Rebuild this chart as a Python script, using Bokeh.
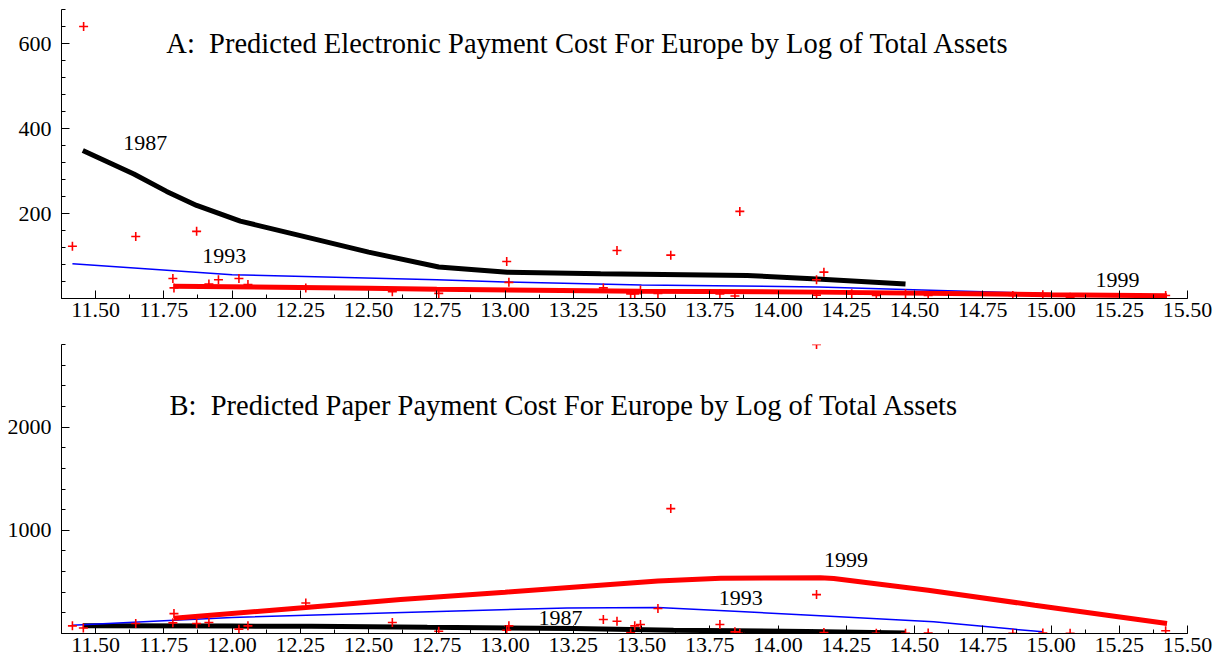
from bokeh.plotting import figure
from bokeh.layouts import column
from bokeh.models import Range1d, FixedTicker, Label, NumeralTickFormatter
from bokeh.embed import file_html
from bokeh.resources import INLINE

# ---------------- data ----------------
x_ticks = [11.50, 11.75, 12.00, 12.25, 12.50, 12.75, 13.00, 13.25, 13.50,
           13.75, 14.00, 14.25, 14.50, 14.75, 15.00, 15.25, 15.50]

# Panel A: predicted electronic payment cost
a87_x = [11.453, 11.64, 11.76, 11.87, 12.03, 12.25, 12.50, 12.757, 13.008, 13.35, 13.887, 14.143, 14.467]
a87_y = [348, 293, 252, 219, 182, 148, 109, 74, 62, 58, 54, 46, 34]
a93_x = [11.415, 12.0, 12.75, 13.0, 13.5, 14.15, 14.59, 14.97]
a93_y = [82, 56, 44, 39, 32, 27, 19, 12]
a99_x = [11.787, 12.5, 12.75, 13.496, 14.14, 15.0, 15.425]
a99_y = [29, 24, 22, 17, 15, 9, 6.5]
a_pts_x = [11.415, 11.456, 11.647, 11.783, 11.787, 11.87, 11.915, 11.95, 12.025, 12.058,
           12.27, 12.587, 12.757, 13.006, 13.014, 13.36, 13.41, 13.46, 13.475, 13.496,
           13.56, 13.607, 13.787, 13.842, 13.86, 14.141, 14.141, 14.168, 14.27, 14.36,
           14.467, 14.55, 14.86, 14.97, 15.07, 15.42]
a_pts_y = [123, 640, 146, 47, 25, 158, 34, 44, 47, 33,
           25, 16, 12, 87, 38, 25, 113, 11, 11, 20,
           12, 102, 11, 6, 205, 44, 8, 62, 11, 7,
           11, 7, 7, 9, 3, 7]

# Panel B: predicted paper payment cost
b87_x = [11.453, 12.0, 12.29, 12.715, 13.25, 13.617, 14.107, 14.467]
b87_y = [75, 72, 70, 60, 48, 32, 20, 6]
b93_x = [11.415, 11.787, 12.0, 12.69, 13.227, 13.56, 13.84, 14.155, 14.57, 14.97]
b93_y = [80, 129, 155, 209, 248, 251, 216, 171, 113, 16]
b99_x = [11.787, 12.27, 12.617, 13.0, 13.56, 13.79, 14.155, 14.204, 14.55, 14.94, 15.425]
b99_y = [148, 251, 329, 400, 509, 536, 540, 532, 420, 274, 97]
b_pts_x = [11.415, 11.455, 11.647, 11.783, 11.787, 11.87, 11.915, 12.025, 12.058, 12.27,
           12.587, 12.757, 13.006, 13.014, 13.36, 13.41, 13.46, 13.475, 13.496, 13.56,
           13.607, 13.787, 13.842, 13.86, 14.141, 14.141, 14.168, 14.36, 14.467, 14.55,
           14.86, 14.97, 15.07, 15.42]
b_pts_y = [74, 54, 97, 103, 193, 97, 106, 42, 74, 296,
           106, 22, 32, 74, 135, 119, 6, 74, 87, 242,
           1210, 87, 16, 2, 2800, 377, 10, 2, 3, 5,
           2, 5, 2, 26]

FONT = "Liberation Serif"


def make_panel(height, top_border, bottom_border, y_max, y_major, y_minor_step):
    p = figure(width=1221, height=height, output_backend="svg", toolbar_location=None,
               x_range=Range1d(11.375, 15.5), y_range=Range1d(0, y_max),
               min_border_left=61, min_border_right=34, min_border_top=top_border,
               min_border_bottom=bottom_border, background_fill_color="white",
               border_fill_color="white")
    p.outline_line_color = None
    p.xgrid.visible = False
    p.ygrid.visible = False
    minor_x = [11.375 + 0.125 * i for i in range(34)]
    p.xaxis.ticker = FixedTicker(ticks=x_ticks, minor_ticks=minor_x)
    p.xaxis.formatter = NumeralTickFormatter(format="0.00")
    n = int(round(y_max / y_minor_step))
    p.yaxis.ticker = FixedTicker(ticks=y_major,
                                 minor_ticks=[y_minor_step * i for i in range(n + 1)])
    for ax in (p.xaxis, p.yaxis):
        ax.axis_line_color = "black"
        ax.axis_line_width = 1
        ax.major_tick_in = 8
        ax.major_tick_out = 0
        ax.minor_tick_in = 4
        ax.minor_tick_out = 0
        ax.major_tick_line_color = "black"
        ax.minor_tick_line_color = "black"
        ax.major_label_text_font = FONT
        ax.major_label_text_font_size = "22px"
        ax.major_label_text_color = "black"
    p.xaxis.major_label_standoff = 4
    p.yaxis.major_label_standoff = 10
    return p


def label(p, x, y, text, size="22px", lift=9):
    p.add_layout(Label(x=x, y=y, y_offset=lift, text=text, text_font=FONT,
                       text_font_size=size, text_color="black",
                       text_baseline="alphabetic", text_align="left"))


# ---------------- panel A ----------------
p1 = make_panel(324, 9, 26, 680, [200, 400, 600], 40)
p1.line(a87_x, a87_y, line_color="black", line_width=5)
p1.line(a93_x, a93_y, line_color="blue", line_width=1.5)
p1.line(a99_x, a99_y, line_color="red", line_width=5)
p1.scatter(a_pts_x, a_pts_y, marker="cross", size=9, line_color="red", line_width=1.6)
label(p1, 11.759, 576, "A:\u00a0\u00a0Predicted Electronic Payment Cost For Europe by Log of Total Assets", "28.5px", 10)
label(p1, 11.601, 344, "1987")
label(p1, 11.891, 79, "1993")
label(p1, 15.163, 23, "1999")

# ---------------- panel B ----------------
p2 = make_panel(338, 20, 29, 2800, [1000, 2000], 200)
p2.line(b87_x, b87_y, line_color="black", line_width=5)
p2.line(b93_x, b93_y, line_color="blue", line_width=1.5)
p2.line(b99_x, b99_y, line_color="red", line_width=5)
p2.scatter(b_pts_x, b_pts_y, marker="cross", size=9, line_color="red", line_width=1.6)
label(p2, 11.771, 2113, "B:\u00a0\u00a0Predicted Paper Payment Cost For Europe by Log of Total Assets", "28.5px", 10)
label(p2, 13.122, 64, "1987")
label(p2, 13.783, 257, "1993")
label(p2, 14.168, 629, "1999")

layout = column(p1, p2)
open("out.html", "w").write(file_html(layout, INLINE))
